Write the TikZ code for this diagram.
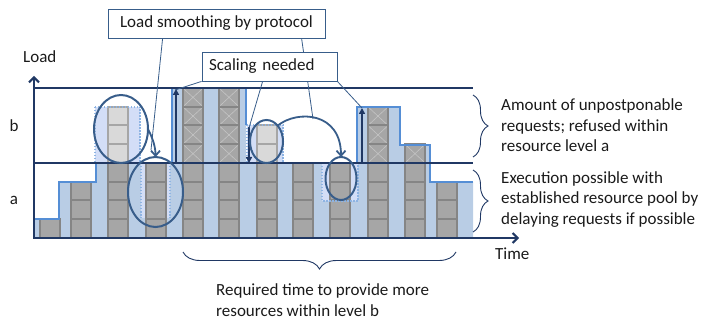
\documentclass[tikz,border=0pt]{standalone}
\usepackage{fontspec}
\setmainfont{Carlito}
\usetikzlibrary{shapes.geometric,arrows.meta,decorations.pathreplacing,calc}
\definecolor{fillblue}{HTML}{B9CDE5}
\definecolor{lav}{HTML}{D3DEF7}
\definecolor{dotblue}{HTML}{8EB4E3}
\definecolor{outl}{HTML}{558ED5}
\definecolor{ellc}{HTML}{385D8A}
\definecolor{navy}{HTML}{203864}
\definecolor{gdark}{HTML}{A6A6A6}
\definecolor{gborder}{HTML}{858585}
\definecolor{glight}{HTML}{D9D9D9}
\definecolor{glightb}{HTML}{A6A6A6}
\definecolor{gcross}{HTML}{C4C4C4}
\definecolor{txt}{HTML}{1A1A1A}
\begin{document}
\begin{tikzpicture}[x=1pt,y=-1pt,
  blk/.style={fill=gdark,draw=gborder,line width=2pt},
  lblk/.style={fill=glight,draw=glightb,line width=2pt},
  crossln/.style={draw=gcross,line width=0.6pt},
  dotbox/.style={draw=dotblue,line width=1.5pt,dash pattern=on 1.5pt off 1.5pt},
  ell/.style={ellipse,draw=ellc,line width=2pt,inner sep=0pt,outer sep=0pt},
  callout/.style={draw=ellc,fill=white,line width=0.8pt,inner sep=0pt,font=\fontsize{17}{20.5}\selectfont,text=txt},
  cline/.style={draw=ellc,line width=0.8pt},
  lbl/.style={font=\fontsize{17}{20.5}\selectfont,text=txt,inner sep=0pt,align=left},
  brc/.style={draw=navy,line width=0.9pt,decorate,decoration={brace,amplitude=#1}},
  axis/.style={draw=navy,line width=2pt,-{Straight Barb[length=5pt,width=10pt]}},
  level/.style={draw=navy,line width=1.1pt},
  upar/.style={draw=navy,line width=2pt,-{Triangle[length=6pt,width=6pt]}},
  curvar/.style={draw=ellc,line width=1.8pt,-{Straight Barb[length=5pt,width=9pt]}},
  prof/.style={draw=outl,line width=2.5pt,line join=miter}
]
\useasboundingbox (0,0) rectangle (719,320);

% load profile fill
\fill[fillblue] (34,238) -- (34,219) -- (59,219) -- (59,182) -- (96,182) -- (96,163)
  -- (172,163) -- (172,88) -- (246,88) -- (246,163) -- (357,163) -- (357,107)
  -- (400,107) -- (400,145) -- (430,145) -- (430,182) -- (473,182) -- (473,238) -- cycle;

% lavender regions
\fill[lav] (95,107) rectangle (140,163);
\fill[lav] (141,163) rectangle (170,218);
\fill[lav] (247,125) rectangle (283,163);
\fill[lav] (322,163) rectangle (358,201);

% dark blocks
\foreach \x/\n in {40/1,71/3,108/4,146/4,183/4,219/4,257/4,293/4,330/4,368/4,405/4,437/3}{
  \foreach \i in {1,...,\n}{
    \draw[blk] (\x,{238-(\i-1)*18.75}) rectangle ++(20,-18.75);
  }
}
% light blocks
\foreach \x/\n in {108/3,257/2}{
  \foreach \i in {1,...,\n}{
    \draw[lblk] (\x,{163-(\i-1)*18.75}) rectangle ++(20,-18.75);
  }
}
% crossed blocks
\foreach \x/\n in {183/4,219/4,368/3,405/1}{
  \foreach \i in {1,...,\n}{
    \fill[gdark] (\x,{163-(\i-1)*18.75}) rectangle ++(20,-18.75);
    \draw[crossln] (\x+1,{163-(\i-1)*18.75-1}) -- ++(18,-16.75);
    \draw[crossln] (\x+1,{163-\i*18.75+1}) -- ++(18,16.75);
    \draw[blk,fill=none] (\x,{163-(\i-1)*18.75}) rectangle ++(20,-18.75);
  }
}

% dotted borders
\draw[dotbox] (95,107) rectangle (140,163);
\draw[dotbox] (141,163) -- (141,218);
\draw[dotbox] (170,163) -- (170,218);
\draw[dotbox] (247,125) rectangle (283,163);
\draw[dotbox] (322,163) -- (322,201) -- (358,201) -- (358,163);

% profile outline
\draw[prof] (34,219) -- (59,219) -- (59,182) -- (96,182) -- (96,163);
\draw[prof] (172,163) -- (172,88) -- (246,88) -- (246,125);
\draw[prof] (283,163) -- (357,163) -- (357,107) -- (400,107) -- (400,145)
  -- (430,145) -- (430,182) -- (473,182);

% level lines and axes
\draw[level] (34,88) -- (473,88);
\draw[level] (34,163) -- (473,163);
\draw[axis] (34,238) -- (34,76);
\draw[axis] (33,238) -- (519,238);

% scaling arrows
\draw[upar] (176,163) -- (176,89);
\draw[upar] (362,163) -- (362,108);
\draw[upar] (249,127) -- (249,163);

% ellipses
\node[ell,minimum width=54pt,minimum height=68pt] (e1) at (121,129) {};
\node[ell,minimum width=55pt,minimum height=70pt] (e2) at (155.5,192) {};
\node[ell,minimum width=33pt,minimum height=43pt] (e3) at (266.5,141.5) {};
\node[ell,minimum width=31pt,minimum height=43pt] (e4) at (341,178.5) {};

% smoothing arrows
\draw[curvar] (e1.east) .. controls +(5,10) and +(0,-10) .. (e2.north);
\draw[curvar] (e3.55) .. controls +(20,-16) and +(0,-45) .. (e4.north);

% callouts
\coordinate (t1) at (151,150);
\coordinate (t2) at (313,119);
\coordinate (t3) at (175,90);
\coordinate (t4) at (249,128);
\coordinate (t5) at (362,108);
\node[callout,minimum width=217pt,minimum height=29pt] (ls) at (216.5,23.5) {Load smoothing by protocol};
\draw[cline] ($(ls.south west)+(55,0)$) -- (t1);
\draw[cline] ($(ls.south west)+(194,0)$) -- (t2);
\node[callout,minimum width=135pt,minimum height=29pt,text width=121pt,align=left] (sn) at (269.5,66.5) {Scaling needed};
\draw[cline] (sn.south west) -- (t3);
\draw[cline] ($(sn.south west)+(61,0)$) -- (t4);
\draw[cline] (sn.south east) -- (t5);

% braces
\draw[brc=15pt] (473,95) -- (473,157);
\draw[brc=15pt] (473,170) -- (473,232);
\draw[brc=17pt] (456,252) -- (183,252);

% texts
\node[lbl,anchor=west] (tb) at (501,125.5) {Amount of unpostponable\\requests; refused within\\resource level a};
\node[lbl,anchor=west] (ta) at (501,199.5) {Execution possible with\\established resource pool by\\delaying requests if possible};
\node[lbl,anchor=west] (tr) at (216,300) {Required time to provide more\\resources within level b};
\node[lbl,anchor=west] (tt) at (495,254) {Time};
\node[lbl,anchor=west] (tl) at (23,57) {Load};
\node[lbl] (lb) at (14,126) {b};
\node[lbl] (la) at (14,200) {a};
\end{tikzpicture}
\end{document}
